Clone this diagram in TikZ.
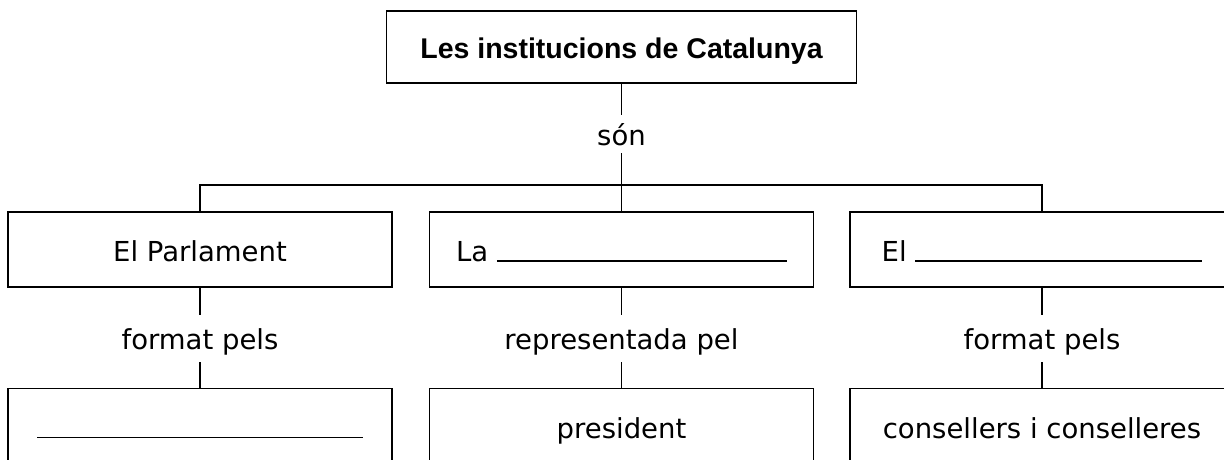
\documentclass[tikz,border=0pt]{standalone}
\usepackage{fontspec}
\setmainfont{DejaVu Sans}
\newfontfamily\titlefont{Liberation Sans}

\newcommand{\blank}[1]{\rule{#1}{1.5pt}}

\tikzset{
	box/.style={draw, line width=1.6pt, minimum width=384pt, minimum height=75pt,
		inner sep=0pt, text height=24pt, text depth=0pt,
		font=\fontsize{27.5}{33}\selectfont},
	link/.style={inner sep=0pt, text height=22pt, text depth=0pt,
		font=\fontsize{27.5}{33}\selectfont},
	conn/.style={line width=1.6pt}
}

\begin{document}
\begin{tikzpicture}[x=1pt,y=-1pt]
\useasboundingbox (0,0) rectangle (1224,460);
\clip (0,0) rectangle (1224,460);

% top
\node[box, minimum width=470pt, minimum height=72pt] (inst) at (621.5,47)
	{\titlefont\bfseries\fontsize{28.5}{34}\selectfont Les institucions de Catalunya};
\node[link, minimum height=38pt] (son) at (621.5,134) {són};
\coordinate (bus) at (621.5,185);

% institutions
\node[box] (parl) at (200,249.5) {El Parlament};
\node[box] (gen) at (621.5,249.5) {La \blank{290pt}};
\node[box] (gov) at (1042,249.5) {El \blank{287pt}};

\node[link, minimum height=47pt] (lparl) at (200,338.5) {format pels};
\node[link, minimum height=47pt] (lgen) at (621.5,338.5) {representada pel};
\node[link, minimum height=47pt] (lgov) at (1042,338.5) {format pels};

% members
\node[box] (dip) at (200,426) {\blank{326pt}};
\node[box] (pres) at (621.5,426) {president};
\node[box] (cons) at (1042,426) {consellers i conselleres};

\draw[conn] (inst) -- (son);
\draw[conn] (son) -- (bus);
\draw[conn] (parl.north) |- (bus) -| (gov.north);
\draw[conn] (gen) -- (gen |- bus);
\foreach \a/\b/\c in {parl/lparl/dip, gen/lgen/pres, gov/lgov/cons}
	\draw[conn] (\a) -- (\b) (\b) -- (\c);
\end{tikzpicture}
\end{document}
